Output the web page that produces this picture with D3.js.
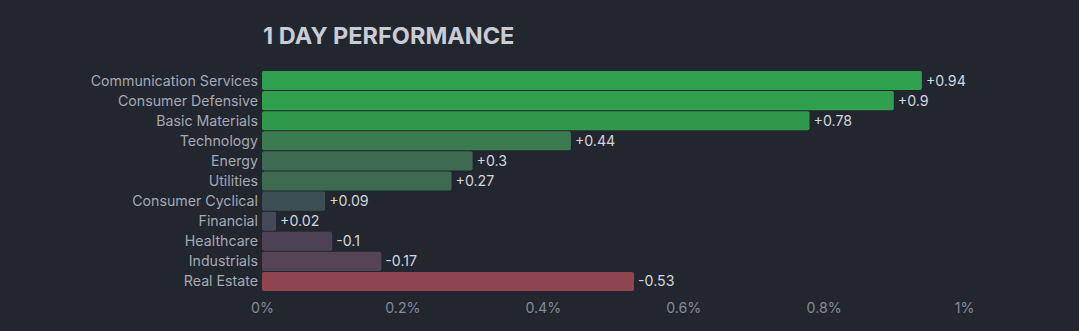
<!DOCTYPE html>
<html><head><meta charset="utf-8">
<script src="https://cdn.jsdelivr.net/npm/d3@7"></script>
<style>
html,body{margin:0;padding:0;background:#22262e;}
svg{display:block;font-family:Inter,"Noto Sans",sans-serif;}
</style></head><body>
<svg id="c" width="1079" height="331"></svg>
<script>
const categories = ["Communication Services","Consumer Defensive","Basic Materials","Technology","Energy","Utilities","Consumer Cyclical","Financial","Healthcare","Industrials","Real Estate"];
const values = [0.94,0.9,0.78,0.44,0.3,0.27,0.09,0.02,-0.1,-0.17,-0.53];
const colors = ["#30a24f","#30a04f","#2f984c","#3a7c50","#3d6a51","#3d6a51","#3e4e55","#454a5b","#4e4354","#554554","#8e4551"];
const tickValues = [0,0.2,0.4,0.6,0.8,1];
const tickLabels = ["0%","0.2%","0.4%","0.6%","0.8%","1%"];

const svg = d3.select("#c");
const x = d3.scaleLinear().domain([0,1]).range([262,964]);
const y = d3.scaleBand().domain(categories).range([71,291]).paddingInner(0.05).paddingOuter(0.0);

svg.append("text").attr("x",263).attr("y",44).text("1 DAY PERFORMANCE")
  .attr("fill","#c9ccd5").attr("font-size",23.5).attr("font-weight",700);

const g = svg.append("g");
g.selectAll("rect").data(categories).join("rect")
  .attr("x",x(0)).attr("y",d=>y(d)).attr("height",y.bandwidth())
  .attr("width",(d,i)=>x(Math.abs(values[i]))-x(0))
  .attr("rx",2).attr("fill",(d,i)=>colors[i]);

g.selectAll("text.v").data(categories).join("text").attr("class","v")
  .attr("x",(d,i)=>x(Math.abs(values[i]))+4).attr("y",d=>y(d)+y.bandwidth()/2)
  .attr("dy","0.35em").attr("fill","#d3d6dd").attr("font-size",14.2)
  .text((d,i)=>(values[i]>0?"+":"")+values[i]);

g.selectAll("text.c").data(categories).join("text").attr("class","c")
  .attr("x",258).attr("y",d=>y(d)+y.bandwidth()/2).attr("dy","0.35em")
  .attr("text-anchor","end").attr("fill","#a5a9b4").attr("font-size",14.2).text(d=>d);

const ax = svg.append("g").attr("transform","translate(0,300)")
  .call(d3.axisBottom(x).tickValues(tickValues).tickFormat((d,i)=>tickLabels[i]).tickSize(0));
ax.select(".domain").remove();
ax.selectAll("text").attr("fill","#858a96").attr("font-size",14.2).attr("font-family","Inter,'Noto Sans',sans-serif").attr("dy","0.71em");
</script></body></html>
